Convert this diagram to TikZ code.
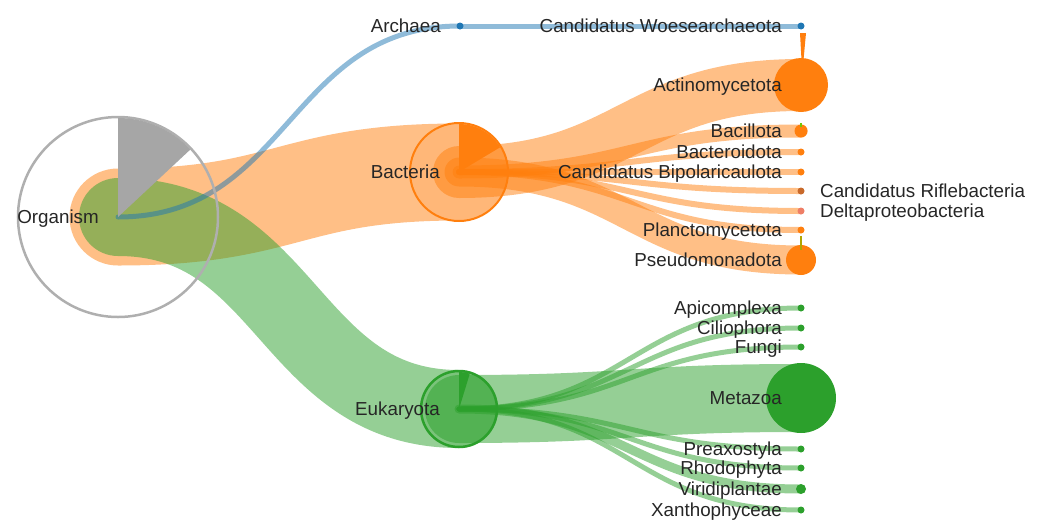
\documentclass[tikz,border=0pt]{standalone}
\usepackage{fontspec}
\setmainfont{Liberation Sans}
\usetikzlibrary{calc, positioning, backgrounds}
\definecolor{orng}{HTML}{FF7F0E}
\definecolor{grn}{HTML}{2CA02C}
\definecolor{blu}{HTML}{1F77B4}
\definecolor{gry}{HTML}{A6A6A6}
\definecolor{ring}{HTML}{AFAFAF}
\definecolor{rifle}{HTML}{C8692A}
\definecolor{delta}{HTML}{EE7E66}
\begin{document}
\begin{tikzpicture}[x=1pt, y=-1pt, font=\fontsize{18.8}{22}\selectfont,
  dot/.style = {circle, fill=#1, inner sep=0pt},
  lbl/.style = {text=black!85, inner sep=0pt, text height=13pt, text depth=0pt},
  band/.style = {line cap=round, draw opacity=0.5},
  hlink/.style = {to path={let \p1=(\tikztostart), \p2=(\tikztotarget) in
    .. controls ({(\x1+\x2)/2},\y1) and ({(\x1+\x2)/2},\y2) .. (\tikztotarget)}}]
\useasboundingbox (0,0) rectangle (1041,520);
\node[circle, draw=ring, line width=2.5, minimum size=200] (org) at (118,217) {};
\node[circle, draw=orng, fill=orng, fill opacity=0.12, line width=2, minimum size=98] (bact) at (459,172) {};
\node[circle, draw=grn, fill=grn, fill opacity=0.25, line width=2.5, minimum size=76] (euk) at (459,409) {};
\node[dot=blu, minimum size=7] (arch) at (460,26) {};
\node[dot=blu, minimum size=7] (woese) at (801,26) {};
\foreach \k/\y/\d/\c in {actino/85/54/orng, bacillota/131/13/orng, bacteroid/152/7/orng,
    bipol/172/7/orng, rifle/191/7/rifle, delta/211/7/delta, plancto/230/7/orng, pseudo/260/30/orng}
  \node[dot=\c, minimum size=\d] (\k) at (801,\y) {};
\foreach \k/\y/\d in {apicom/308/7, cilio/328/7, fungi/347/7, metazoa/398/70,
    preaxo/449/7, rhodo/468/7, viridi/489/10, xantho/510/7}
  \node[dot=grn, minimum size=\d] (\k) at (801,\y) {};
\fill[gry] (org.center) -- ++(43:99pt) arc[start angle=43, end angle=90, radius=99pt] -- cycle;
\fill[orng] (bact.center) -- ++(31:48pt) arc[start angle=31, end angle=90, radius=48pt] -- cycle;
\fill[grn] (euk.center) -- ++(73:37pt) arc[start angle=73, end angle=90, radius=37pt] -- cycle;
\fill[orng] (800,33) -- (806,33) -- (803.5,60) -- (801.5,60) -- cycle;
\draw[green!55!orng, line width=1.5] (801,123) -- (801,127);
\draw[olive!70!yellow, line width=1.5] (801,236) -- (801,250);
\begin{pgfonlayer}{background}
\draw[band, orng, line width=97] (org.center) to[hlink] (bact.center);
\draw[band, grn, line width=78] (org.center) to[hlink] (euk.center);
\draw[band, blu, line width=5] (org.center) to[hlink] (arch.center);
\draw[band, blu, line width=5] (arch.center) to[hlink] (woese.center);
\foreach \k/\w in {actino/52, bacillota/13, bacteroid/6, bipol/6, rifle/6, delta/6, plancto/6, pseudo/29}
  \draw[band, orng, line width=\w] (bact.center) to[hlink] (\k.center);
\foreach \k/\w in {apicom/5, cilio/5, fungi/5, metazoa/68, preaxo/5, rhodo/5, viridi/9, xantho/5}
  \draw[band, grn, line width=\w] (euk.center) to[hlink] (\k.center);
\end{pgfonlayer}
\foreach \k/\t in {org/Organism, arch/Archaea, bact/Bacteria, euk/Eukaryota,
    woese/Candidatus Woesearchaeota, actino/Actinomycetota, bacillota/Bacillota,
    bacteroid/Bacteroidota, bipol/Candidatus Bipolaricaulota, plancto/Planctomycetota,
    pseudo/Pseudomonadota, apicom/Apicomplexa, cilio/Ciliophora, fungi/Fungi,
    metazoa/Metazoa, preaxo/Preaxostyla, rhodo/Rhodophyta, viridi/Viridiplantae,
    xantho/Xanthophyceae}
  \node[lbl, left=19pt of \k.center] {\t};
\node[lbl, right=19pt of rifle.center] {Candidatus Riflebacteria};
\node[lbl, right=19pt of delta.center] {Deltaproteobacteria};
\end{tikzpicture}
\end{document}
